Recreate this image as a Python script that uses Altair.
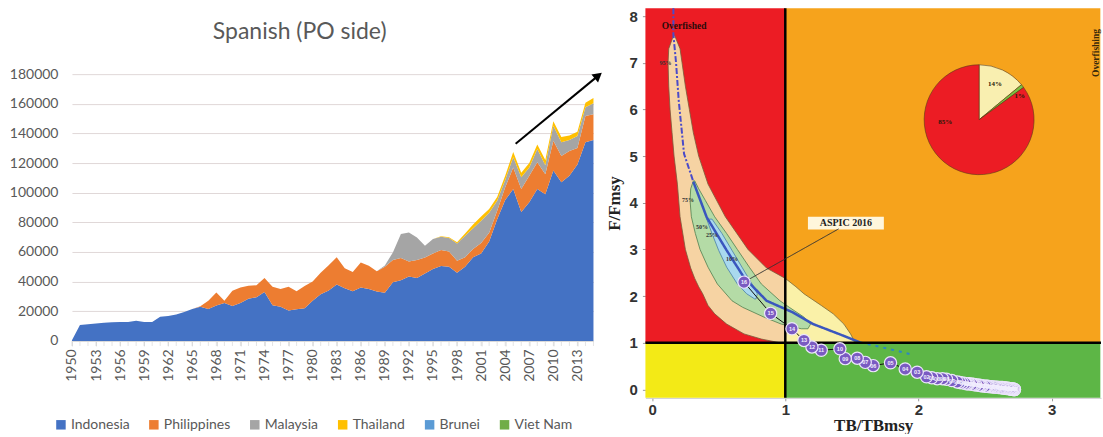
import altair as alt
import pandas as pd

# ---------------- left chart: catches by country ----------------
years = list(range(1950, 2016))
indonesia = [500, 10800, 11300, 11700, 12200, 12600, 12700, 12800, 13600, 12800,
             12800, 16300, 16800, 17800, 19500, 21500, 23000, 21500, 23800, 25500,
             23500, 25500, 28500, 29500, 33000, 24000, 23000, 20500, 21300, 22000,
             27000, 31500, 34000, 38000, 35500, 33500, 36000, 35000, 33300, 32500,
             39500, 41000, 43500, 42500, 45500, 48500, 50500, 50000, 46000, 50000,
             56500, 59000, 67000, 82000, 95000, 102500, 87000, 93500, 102500, 99000,
             115000, 107000, 111500, 119000, 134000, 135500]
philippines = [0, 0, 0, 0, 0, 0, 0, 0, 0, 0,
               0, 0, 0, 0, 0, 0, 300, 5500, 8900, 1500,
               10300, 10500, 8700, 8000, 9500, 12500, 12000, 16000, 12200, 15000,
               13000, 14500, 17000, 18500, 13500, 13000, 16900, 15700, 13700, 17500,
               15000, 14900, 10100, 12000, 10800, 10500, 10800, 10400, 8000, 6500,
               5500, 7000, 6000, 5800, 8600, 14500, 15500, 18000, 18000, 13500,
               20000, 17800, 16700, 11200, 17800, 17500]
malaysia = [0, 0, 0, 0, 0, 0, 0, 0, 0, 0,
            0, 0, 0, 0, 0, 0, 0, 0, 0, 0,
            0, 0, 0, 0, 0, 0, 0, 0, 0, 0,
            0, 0, 0, 0, 0, 0, 0, 0, 0, 800,
            5200, 16200, 19600, 15300, 7900, 9700, 9000, 9000, 11800, 14500,
            14000, 15000, 13500, 6800, 4900, 7000, 8000, 5500, 9000, 6000,
            10200, 9200, 7400, 8000, 5900, 7400]
thailand = [0, 0, 0, 0, 0, 0, 0, 0, 0, 0,
            0, 0, 0, 0, 0, 0, 0, 0, 0, 0,
            0, 0, 0, 0, 0, 0, 0, 0, 0, 0,
            0, 0, 0, 0, 0, 0, 0, 0, 0, 0,
            0, 0, 0, 0, 0, 0, 300, 500, 800, 1500,
            2500, 3000, 2500, 2500, 3000, 3500, 3000, 3000, 3000, 3500,
            3000, 3500, 3000, 3000, 3000, 3500]
brunei = [0] * 66
viet_nam = [0] * 66

countries = ["Indonesia", "Philippines", "Malaysia", "Thailand", "Brunei", "Viet Nam"]
series = [indonesia, philippines, malaysia, thailand, brunei, viet_nam]
country_colors = ["#4472C4", "#ED7D31", "#A5A5A5", "#FFC000", "#5B9BD5", "#70AD47"]
y_ticks = [0, 20000, 40000, 60000, 80000, 100000, 120000, 140000, 160000, 180000]
x_label_years = list(range(1950, 2016, 3))
left_title = "Spanish (PO side)"

arrow_year = [2005.3, 2015.6]
arrow_catch = [133000, 179000]

# ---------------- right chart: Kobe plot ----------------
traj_year = list(range(1950, 2017))
traj_tb = [2.72, 2.72, 2.72, 2.71, 2.71, 2.71, 2.70, 2.70, 2.69, 2.69,
           2.68, 2.68, 2.67, 2.66, 2.66, 2.65, 2.64, 2.63, 2.63, 2.62,
           2.61, 2.60, 2.59, 2.58, 2.57, 2.56, 2.55, 2.54, 2.53, 2.52,
           2.51, 2.50, 2.48, 2.47, 2.46, 2.45, 2.43, 2.42, 2.41, 2.40,
           2.38, 2.37, 2.36, 2.35, 2.33, 2.31, 2.29, 2.25, 2.21, 2.18,
           2.14, 2.10, 2.06, 1.99, 1.90, 1.79, 1.66, 1.60, 1.54, 1.45,
           1.41, 1.27, 1.20, 1.14, 1.05, 0.89, 0.69]
traj_f = [0.00, 0.00, 0.00, 0.00, 0.00, 0.01, 0.01, 0.01, 0.01, 0.01,
          0.02, 0.02, 0.02, 0.02, 0.03, 0.03, 0.03, 0.03, 0.04, 0.04,
          0.04, 0.04, 0.05, 0.05, 0.05, 0.05, 0.06, 0.06, 0.06, 0.07,
          0.07, 0.07, 0.08, 0.08, 0.09, 0.09, 0.10, 0.10, 0.11, 0.11,
          0.12, 0.12, 0.12, 0.13, 0.14, 0.15, 0.16, 0.19, 0.22, 0.23,
          0.23, 0.25, 0.27, 0.37, 0.44, 0.57, 0.51, 0.58, 0.67, 0.66,
          0.87, 0.84, 0.91, 1.05, 1.30, 1.63, 2.30]

outer_f = [7.58, 7.3, 7.0, 6.5, 6.0, 5.5, 5.0, 4.4, 3.7, 3.0, 2.6, 2.38, 2.2, 2.05, 1.8, 1.62, 1.4, 1.19, 1.08, 1.0]
outer_l = [0.16, 0.125, 0.12, 0.125, 0.135, 0.15, 0.165, 0.19, 0.21, 0.25, 0.29, 0.32, 0.35, 0.38, 0.42, 0.47, 0.56, 0.69, 0.82, 0.96]
outer_r = [0.17, 0.21, 0.225, 0.25, 0.28, 0.31, 0.35, 0.42, 0.55, 0.72, 0.86, 1.0, 1.08, 1.14, 1.27, 1.36, 1.44, 1.49, 1.51, 1.52]
mid_f = [4.47, 4.3, 4.05, 3.7, 3.34, 3.0, 2.62, 2.26, 1.9, 1.76, 1.55, 1.4, 1.3]
mid_l = [0.31, 0.29, 0.285, 0.295, 0.325, 0.36, 0.42, 0.49, 0.60, 0.68, 0.84, 0.97, 1.12]
mid_r = [0.32, 0.35, 0.40, 0.47, 0.56, 0.64, 0.73, 0.82, 0.96, 1.03, 1.14, 1.19, 1.17]
inner_f = [3.65, 3.34, 2.98, 2.62, 2.26, 2.05, 1.94]
inner_l = [0.41, 0.45, 0.50, 0.56, 0.64, 0.71, 0.77]
inner_r = [0.45, 0.525, 0.60, 0.675, 0.75, 0.79, 0.78]

med1_tb = [0.16, 0.16, 0.18, 0.20, 0.24, 0.31]
med1_f = [8.17, 7.6, 7.0, 6.19, 5.05, 4.45]
med2_tb = [0.31, 0.41, 0.56, 0.69, 0.86, 1.05, 1.21, 1.41, 1.56]
med2_f = [4.45, 3.69, 2.98, 2.4, 1.9, 1.66, 1.40, 1.18, 1.01]
med3_tb = [1.56, 1.70, 1.85, 1.96]
med3_f = [1.01, 0.92, 0.82, 0.74]

zones = ["Overfished & overfishing", "Overfishing only", "Overfished only", "Healthy"]
zone_tb = [-0.05, 1.0, -0.05, 1.0]
zone_tb2 = [1.0, 3.365, 1.0, 3.365]
zone_f = [1.0, 1.0, -0.18, -0.18]
zone_f2 = [8.17, 8.17, 1.0, 1.0]
zone_colors = ["#EC1C24", "#F6A31C", "#F3EA16", "#5DB646"]

pie_cat = ["14%", "1%", "85%"]
pie_share = [14, 1, 85]
pie_center = (2.455, 5.78)
pie_colors = ["#F9EFB0", "#79C143", "#EC1C24"]
pie_label_tb = [2.575, 2.76, 2.2]
pie_label_f = [6.55, 6.28, 5.73]

pct_labels = ["95%", "75%", "50%", "25%", "10%"]
pct_tb = [0.10, 0.27, 0.375, 0.45, 0.60]
pct_f = [7.0, 4.07, 3.49, 3.30, 2.80]

aspic_box_tb = [1.17, 1.74]
aspic_box_f = [3.43, 3.70]
aspic_line_tb = [1.40, 0.69]
aspic_line_f = [3.44, 2.30]

# ================= build left chart =================
rows = []
for i, (c, vals) in enumerate(zip(countries, series)):
    for yr, v in zip(years, vals):
        rows.append({"year": yr, "catch": v, "country": c, "ord": i})
df_left = pd.DataFrame(rows)

FONT_L = "Lato"
GREY = "#595959"
LW, LH = 522, 333

x_axis_l = alt.Axis(values=x_label_years, format="d", labelAngle=-90,
                    labelOverlap=False, grid=False, tickColor="#D9D9D9",
                    domainColor="#D9D9D9", tickSize=5, labelFont=FONT_L,
                    labelFontSize=14, labelColor=GREY, labelPadding=3, title=None)
y_axis_l = alt.Axis(values=y_ticks, format="d", grid=True, gridColor="#E0D8D8",
                    domain=False, ticks=False, labelOverlap=False,
                    labelFont=FONT_L, labelFontSize=14, labelColor=GREY,
                    labelPadding=14, minExtent=72, maxExtent=72, title=None)
x_scale_l = alt.Scale(domain=[1950, 2015], nice=False, zero=False)
y_scale_l = alt.Scale(domain=[0, 224500], nice=False)

area = alt.Chart(df_left).mark_area(opacity=1).encode(
    x=alt.X("year:Q", scale=x_scale_l, axis=x_axis_l),
    y=alt.Y("catch:Q", stack="zero", scale=y_scale_l, axis=y_axis_l),
    color=alt.Color("country:N",
                    scale=alt.Scale(domain=countries, range=country_colors),
                    legend=alt.Legend(orient="none", legendX=-18, legendY=410,
                                      direction="horizontal", columns=6,
                                      symbolType="square", symbolSize=90,
                                      symbolStrokeWidth=0, labelFont=FONT_L,
                                      labelFontSize=14, labelColor=GREY,
                                      columnPadding=17, labelOffset=3, title=None)),
    order=alt.Order("ord:Q", sort="ascending"),
)

# minor ticks, one per year, along the category axis
year_ticks = alt.Chart(pd.DataFrame({"year": years})).mark_tick(
    color="#D9D9D9", thickness=1, size=5, orient="vertical", yOffset=2.5
).encode(x=alt.X("year:Q", scale=x_scale_l, axis=x_axis_l), y=alt.value(LH))

df_arrow = pd.DataFrame({"year": arrow_year, "catch": arrow_catch})
arrow_line = alt.Chart(df_arrow).mark_line(color="black", strokeWidth=2).encode(
    x=alt.X("year:Q", scale=x_scale_l, axis=x_axis_l),
    y=alt.Y("catch:Q", scale=y_scale_l, axis=y_axis_l))
arrow_head = alt.Chart(df_arrow.iloc[[1]]).mark_point(
    shape="triangle-up", filled=True, size=110, angle=51, color="black", opacity=1
).encode(x=alt.X("year:Q", scale=x_scale_l, axis=x_axis_l),
         y=alt.Y("catch:Q", scale=y_scale_l, axis=y_axis_l))

title_txt = alt.Chart(pd.DataFrame({"t": [left_title]})).mark_text(
    font=FONT_L, fontSize=23, color=GREY
).encode(text="t:N", x=alt.value(228), y=alt.value(24))

left = alt.layer(area, year_ticks, arrow_line, arrow_head, title_txt).properties(width=LW, height=LH)

# ================= build right chart =================
RW, RH = 456, 390
SERIF = "Liberation Serif"
SANS = "Liberation Sans"

x_scale_r = alt.Scale(domain=[-0.05, 3.37], nice=False, zero=False)
y_scale_r = alt.Scale(domain=[-0.18, 8.17], nice=False, zero=False)
x_axis_r = alt.Axis(values=[0, 1, 2, 3], format="d", title="TB/TBmsy",
                    titleFont=SERIF, titleFontSize=17, titleFontWeight="bold",
                    titleColor="#222222", labelFont=SANS, labelFontSize=15,
                    labelFontWeight="bold", labelColor="#333333", grid=False,
                    domainColor="#cccccc", tickColor="#999999", tickSize=3,
                    labelPadding=2, titlePadding=0)
y_axis_r = alt.Axis(values=list(range(9)), format="d", title="F/Fmsy",
                    titleFont=SERIF, titleFontSize=17, titleFontWeight="bold",
                    titleColor="#222222", labelFont=SANS, labelFontSize=15,
                    labelFontWeight="bold", labelColor="#333333", grid=False,
                    domain=False, tickColor="#999999", tickSize=3,
                    labelPadding=5, titlePadding=6)

def X(field):
    return alt.X(field, scale=x_scale_r, axis=x_axis_r)

def Y(field):
    return alt.Y(field, scale=y_scale_r, axis=y_axis_r)

df_zone = pd.DataFrame({"zone": zones, "tb": zone_tb, "tb2": zone_tb2, "f": zone_f, "f2": zone_f2})
quad = alt.Chart(df_zone).mark_rect(opacity=1).encode(
    x=X("tb:Q"), x2="tb2:Q", y=Y("f:Q"), y2="f2:Q",
    color=alt.Color("zone:N", scale=alt.Scale(domain=zones, range=zone_colors), legend=None),
)

peach_rows, pale_rows = [], []
for f, l, r in zip(outer_f, outer_l, outer_r):
    if l < 1:
        peach_rows.append({"f": f, "tb": l, "tb2": min(r, 1.0)})
    if r >= 1:
        pale_rows.append({"f": f, "tb": max(l, 1.0), "tb2": r})

def band(rows_, fill, stroke):
    return alt.Chart(pd.DataFrame(rows_)).mark_area(
        orient="horizontal", fill=fill, stroke=stroke, strokeWidth=0.8, opacity=1
    ).encode(y=Y("f:Q"), x=X("tb:Q"), x2="tb2:Q")

outer_peach = band(peach_rows, "#F6D3A3", "#7A5A3A")
outer_pale = band(pale_rows, "#FAF1A8", "#7A6A3A")
mid_band = band([{"f": a, "tb": b, "tb2": c} for a, b, c in zip(mid_f, mid_l, mid_r)],
                "#B4DBA6", "#4F7F4F")
inner_band = band([{"f": a, "tb": b, "tb2": c} for a, b, c in zip(inner_f, inner_l, inner_r)],
                  "#A9D9EE", "#4A7FA8")

def path(tb, f, color, width, dash):
    d = pd.DataFrame({"tb": tb, "f": f, "i": list(range(len(tb)))})
    return alt.Chart(d).mark_line(color=color, strokeWidth=width, strokeDash=dash).encode(
        x=X("tb:Q"), y=Y("f:Q"), order="i:Q")

med1 = path(med1_tb, med1_f, "#4B4BC8", 2, [6, 2, 2, 2])
med2 = path(med2_tb, med2_f, "#3A56BE", 2.5, [1, 0])
med3 = path(med3_tb, med3_f, "#2E86C1", 2, [3, 5])

vline = alt.Chart(pd.DataFrame({"tb": [1.0]})).mark_rule(color="black", strokeWidth=2.5).encode(x=X("tb:Q"))
hline = alt.Chart(pd.DataFrame({"f": [1.0]})).mark_rule(color="black", strokeWidth=2.5).encode(y=Y("f:Q"))

df_traj = pd.DataFrame({"year": traj_year, "tb": traj_tb, "f": traj_f,
                        "lab": [f"{y % 100:02d}" for y in traj_year]})
traj_line = alt.Chart(df_traj).mark_line(color="#111111", strokeWidth=1).encode(
    x=X("tb:Q"), y=Y("f:Q"), order="year:Q")
traj_pts = alt.Chart(df_traj).mark_circle(
    size=150, color="#7A5BC2", stroke="#ECE6FB", strokeWidth=1.2, opacity=1
).encode(x=X("tb:Q"), y=Y("f:Q"), order="year:Q")
traj_lab = alt.Chart(df_traj).mark_text(
    fontSize=5.5, font=SANS, fontWeight="bold", color="#F2EEFF"
).encode(x=X("tb:Q"), y=Y("f:Q"), text="lab:N")

aspic_box = alt.Chart(pd.DataFrame({"tb": [aspic_box_tb[0]], "tb2": [aspic_box_tb[1]],
                                    "f": [aspic_box_f[0]], "f2": [aspic_box_f[1]]})).mark_rect(
    fill="#FFF6DC", opacity=1).encode(x=X("tb:Q"), x2="tb2:Q", y=Y("f:Q"), y2="f2:Q")
aspic_line = path(aspic_line_tb, aspic_line_f, "#333333", 1, [1, 0])
aspic_txt = alt.Chart(pd.DataFrame({"tb": [sum(aspic_box_tb) / 2], "f": [sum(aspic_box_f) / 2],
                                    "t": ["ASPIC 2016"]})).mark_text(
    font=SERIF, fontSize=10, fontWeight="bold", color="#222222"
).encode(x=X("tb:Q"), y=Y("f:Q"), text="t:N")

df_pie = pd.DataFrame({"cat": pie_cat, "share": pie_share, "ord": [0, 1, 2],
                       "tb": [pie_center[0]] * 3, "f": [pie_center[1]] * 3})
pie = alt.Chart(df_pie).mark_arc(radius=55, stroke="#5A3A1A", strokeWidth=0.6, opacity=1).encode(
    theta=alt.Theta("share:Q", stack=True),
    color=alt.Color("cat:N", scale=alt.Scale(domain=pie_cat, range=pie_colors), legend=None),
    order=alt.Order("ord:Q"),
    x=X("tb:Q"), y=Y("f:Q"),
)
pie_lab = alt.Chart(pd.DataFrame({"tb": pie_label_tb, "f": pie_label_f, "t": pie_cat})).mark_text(
    font=SERIF, fontSize=7, fontWeight="bold", color="#2A1A0A"
).encode(x=X("tb:Q"), y=Y("f:Q"), text="t:N")

pct = alt.Chart(pd.DataFrame({"tb": pct_tb, "f": pct_f, "t": pct_labels})).mark_text(
    font=SERIF, fontSize=6, fontWeight="bold", color="#333333"
).encode(x=X("tb:Q"), y=Y("f:Q"), text="t:N")

overfished = alt.Chart(pd.DataFrame({"tb": [0.24], "f": [7.79], "t": ["Overfished"]})).mark_text(
    font=SERIF, fontSize=9.5, fontWeight="bold", color="#2A0A0A"
).encode(x=X("tb:Q"), y=Y("f:Q"), text="t:N")
overfishing = alt.Chart(pd.DataFrame({"tb": [3.335], "f": [7.21], "t": ["Overfishing"]})).mark_text(
    font=SERIF, fontSize=9.5, fontWeight="bold", color="#3A2A0A", angle=270
).encode(x=X("tb:Q"), y=Y("f:Q"), text="t:N")

right = alt.layer(
    quad, outer_peach, outer_pale, mid_band, inner_band,
    med1, med2, med3, vline, hline,
    aspic_box, aspic_line, aspic_txt,
    traj_line, traj_pts, traj_lab,
    pie, pie_lab, pct, overfished, overfishing,
).resolve_scale(color="independent").properties(width=RW, height=RH)

chart = alt.hconcat(left, right, spacing=2).properties(
    padding={"left": 0, "top": 4, "right": 0, "bottom": 0}
).configure_view(stroke=None).resolve_scale(color="independent")

chart.save("out.html", embed_options={"renderer": "svg", "actions": False})
